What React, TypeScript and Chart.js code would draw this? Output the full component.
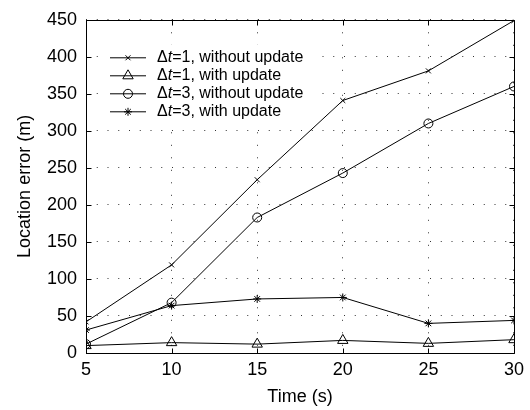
import React, { useEffect, useRef } from 'react';
import { Chart, registerables } from 'chart.js';

Chart.register(...registerables);

const times = [5, 10, 15, 20, 25, 30];
const dt1NoUpdate = [42, 119, 234, 341, 381, 449];
const dt1Update = [10, 14, 12, 17, 13, 18];
const dt3NoUpdate = [12, 68, 183, 243, 310, 360];
const dt3Update = [31, 64, 73, 75, 40, 44];
const xTickValues = [5, 10, 15, 20, 25, 30];
const yTickValues = [0, 50, 100, 150, 200, 250, 300, 350, 400, 450];
const seriesLabels = [
  'Δt=1, without update',
  'Δt=1, with update',
  'Δt=3, without update',
  'Δt=3, with update',
];
const xTitle = 'Time (s)';
const yTitle = 'Location error (m)';

const FONT = '"Liberation Sans", Arial, Helvetica, sans-serif';

const markerStyles = ['crossRot', 'triangle', 'circle', 'star'];
const markerRadii = [3.5, 6, 4.5, 4];

function drawMarker(ctx: CanvasRenderingContext2D, style: string, x: number, y: number, r: number) {
  ctx.beginPath();
  if (style === 'crossRot') {
    const d = r * Math.SQRT1_2;
    ctx.moveTo(x - d, y - d); ctx.lineTo(x + d, y + d);
    ctx.moveTo(x - d, y + d); ctx.lineTo(x + d, y - d);
  } else if (style === 'triangle') {
    let a = 0;
    ctx.moveTo(x + Math.sin(a) * r, y - Math.cos(a) * r);
    a += (2 * Math.PI) / 3;
    ctx.lineTo(x + Math.sin(a) * r, y - Math.cos(a) * r);
    a += (2 * Math.PI) / 3;
    ctx.lineTo(x + Math.sin(a) * r, y - Math.cos(a) * r);
    ctx.closePath();
  } else if (style === 'circle') {
    ctx.arc(x, y, r, 0, Math.PI * 2);
  } else if (style === 'star') {
    const d = r * Math.SQRT1_2;
    ctx.moveTo(x - r, y); ctx.lineTo(x + r, y);
    ctx.moveTo(x, y - r); ctx.lineTo(x, y + r);
    ctx.moveTo(x - d, y - d); ctx.lineTo(x + d, y + d);
    ctx.moveTo(x - d, y + d); ctx.lineTo(x + d, y - d);
  }
  ctx.stroke();
}

const legendPlugin = {
  id: 'matlabLegend',
  afterDatasetsDraw(chart: any) {
    const ctx: CanvasRenderingContext2D = chart.ctx;
    const area = chart.chartArea;
    const bx = area.left + 14;
    const by = area.top + 25;
    const bw = 215;
    const bh = 78;
    ctx.save();
    ctx.fillStyle = '#ffffff';
    ctx.fillRect(bx, by, bw, bh);
    const rowH = 18;
    const y0 = by + 13;
    const lineX0 = bx + 10;
    const lineX1 = bx + 46;
    const textX = bx + 57;
    chart.data.datasets.forEach((ds: any, i: number) => {
      const y = y0 + i * rowH;
      ctx.strokeStyle = '#000';
      ctx.lineWidth = 1;
      ctx.beginPath();
      ctx.moveTo(lineX0, y);
      ctx.lineTo(lineX1, y);
      ctx.stroke();
      drawMarker(ctx, markerStyles[i], (lineX0 + lineX1) / 2, y, markerRadii[i]);
      const label: string = ds.label;
      ctx.fillStyle = '#000';
      ctx.textBaseline = 'middle';
      ctx.textAlign = 'left';
      let x = textX;
      const normal = `16px ${FONT}`;
      const italic = `italic 16px ${FONT}`;
      if (label.startsWith('Δt')) {
        ctx.font = normal;
        ctx.fillText('Δ', x, y);
        x += ctx.measureText('Δ').width;
        ctx.font = italic;
        ctx.fillText('t', x, y);
        x += ctx.measureText('t').width;
        ctx.font = normal;
        ctx.fillText(label.slice(2), x, y);
      } else {
        ctx.font = normal;
        ctx.fillText(label, x, y);
      }
    });
    ctx.restore();
  },
  afterDraw(chart: any) {
    const ctx: CanvasRenderingContext2D = chart.ctx;
    const { left, right, top, bottom } = chart.chartArea;
    const xs = chart.scales.x;
    const ys = chart.scales.y;
    ctx.save();
    ctx.strokeStyle = '#000';
    ctx.lineWidth = 1;
    const L = Math.round(left) + 0.5;
    const R = Math.round(right) + 0.5;
    const T = Math.round(top) + 0.5;
    const B = Math.round(bottom) + 0.5;
    ctx.beginPath();
    ctx.rect(L, T, R - L, B - T);
    ctx.stroke();
    const tl = 5;
    ctx.beginPath();
    xTickValues.forEach((v) => {
      const px = Math.round(xs.getPixelForValue(v)) + 0.5;
      ctx.moveTo(px, B); ctx.lineTo(px, B - tl);
      ctx.moveTo(px, T); ctx.lineTo(px, T + tl);
    });
    yTickValues.forEach((v) => {
      const py = Math.round(ys.getPixelForValue(v)) + 0.5;
      ctx.moveTo(L, py); ctx.lineTo(L + tl, py);
      ctx.moveTo(R, py); ctx.lineTo(R - tl, py);
    });
    ctx.stroke();
    ctx.restore();
  },
};

export default function App() {
  const canvasRef = useRef<HTMLCanvasElement | null>(null);

  useEffect(() => {
    if (!canvasRef.current) return;
    const seriesData = [dt1NoUpdate, dt1Update, dt3NoUpdate, dt3Update];
    const chart = new Chart(canvasRef.current, {
      type: 'line',
      data: {
        datasets: seriesData.map((vals, i) => ({
          label: seriesLabels[i],
          data: times.map((t, j) => ({ x: t, y: vals[j] })),
          borderColor: '#000',
          borderWidth: 1,
          backgroundColor: 'transparent',
          pointStyle: markerStyles[i] as any,
          pointRadius: markerRadii[i],
          pointBorderColor: '#000',
          pointBorderWidth: 1,
          pointBackgroundColor: 'rgba(0,0,0,0)',
          tension: 0,
          fill: false,
        })),
      },
      options: {
        responsive: false,
        animation: false,
        events: [],
        layout: { padding: { top: 15, right: 14, left: 0, bottom: 0 } },
        plugins: {
          legend: { display: false },
          tooltip: { enabled: false },
        },
        scales: {
          x: {
            type: 'linear',
            min: 5,
            max: 30,
            afterBuildTicks: (scale: any) => {
              scale.ticks = xTickValues.map((v) => ({ value: v }));
            },
            afterFit: (scale: any) => {
              scale.height = 57;
            },
            ticks: {
              color: '#000',
              font: { family: FONT, size: 18 },
              padding: 6,
              maxRotation: 0,
              autoSkip: false,
            },
            grid: {
              drawTicks: false,
              color: '#333',
              lineWidth: 1,
            },
            border: { display: false, dash: [1, 11.5] },
            title: {
              display: true,
              text: xTitle,
              color: '#000',
              font: { family: FONT, size: 18 },
              padding: { top: 0, bottom: 2 },
            },
          },
          y: {
            type: 'linear',
            min: 0,
            max: 450,
            afterBuildTicks: (scale: any) => {
              scale.ticks = yTickValues.map((v) => ({ value: v }));
            },
            afterFit: (scale: any) => {
              scale.width = 86;
            },
            ticks: {
              color: '#000',
              font: { family: FONT, size: 18 },
              padding: 9,
              autoSkip: false,
            },
            grid: {
              drawTicks: false,
              color: '#333',
              lineWidth: 1,
            },
            border: { display: false, dash: [1, 9.75] },
            title: {
              display: true,
              text: yTitle,
              color: '#000',
              font: { family: FONT, size: 18 },
              padding: { top: 14, bottom: 0 },
            },
          },
        },
      },
      plugins: [legendPlugin],
    });
    return () => chart.destroy();
  }, []);

  return (
    <div style={{ position: 'absolute', left: 0, top: 0, width: 530, height: 410, background: '#fff' }}>
      <canvas ref={canvasRef} width={530} height={410} style={{ width: 530, height: 410, display: 'block' }} />
    </div>
  );
}
